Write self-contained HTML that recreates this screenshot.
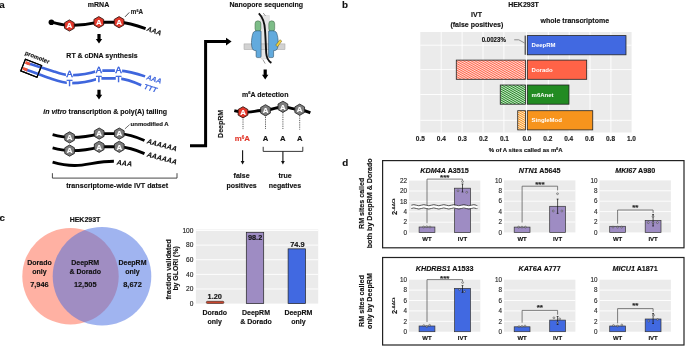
<!DOCTYPE html>
<html><head><meta charset="utf-8"><style>
html,body{margin:0;padding:0;background:#fff;width:685px;height:346px;overflow:hidden;}
svg{display:block;font-family:"Liberation Sans", sans-serif;-webkit-font-smoothing:antialiased;will-change:transform;}
</style></head><body>
<svg width="685" height="346" viewBox="0 0 685 346">
<rect width="685" height="346" fill="#fff"/>
<text x="-0.65" y="7.70" font-size="9.8" font-weight="bold" text-anchor="start" fill="#111"  stroke="#111" stroke-width="0.14">a</text>
<text x="98.50" y="6.80" font-size="7" font-weight="bold" text-anchor="middle" fill="#111"  stroke="#111" stroke-width="0.14">mRNA</text>
<path d="M51.4,22.2 C58,23.6 63,25.4 69.4,25.5 C80,25.6 90,24.2 98.8,22.2 L119,22.2 C128,22.4 137,25.4 145.6,28.6" fill="none" stroke="#000" stroke-width="2.9"/>
<circle cx="51.4" cy="22.2" r="2.8" fill="#000"/>
<polygon points="69.40,19.90 64.55,22.70 64.55,28.30 69.40,31.10 74.25,28.30 74.25,22.70" fill="#E2372A" stroke="#2a100c" stroke-width="0.85"/>
<text x="69.40" y="28.22" font-size="7.9" font-weight="bold" text-anchor="middle" fill="#fff" stroke="#fff" stroke-width="0.14">A</text>
<polygon points="98.80,16.60 93.95,19.40 93.95,25.00 98.80,27.80 103.65,25.00 103.65,19.40" fill="#E2372A" stroke="#2a100c" stroke-width="0.85"/>
<text x="98.80" y="24.92" font-size="7.9" font-weight="bold" text-anchor="middle" fill="#fff" stroke="#fff" stroke-width="0.14">A</text>
<polygon points="119.10,16.60 114.25,19.40 114.25,25.00 119.10,27.80 123.95,25.00 123.95,19.40" fill="#E2372A" stroke="#2a100c" stroke-width="0.85"/>
<text x="119.10" y="24.92" font-size="7.9" font-weight="bold" text-anchor="middle" fill="#fff" stroke="#fff" stroke-width="0.14">A</text>
<line x1="125.0" y1="16.9" x2="129.3" y2="12.4" stroke="#222" stroke-width="0.8"/>
<text x="130.8" y="13.9" font-size="6.3" font-weight="bold" fill="#222" stroke="#222" stroke-width="0.14">m<tspan font-size="3.8" dy="-2.3">6</tspan><tspan dy="2.3">A</tspan></text>
<text transform="translate(146.3,30.8) rotate(18)" font-size="6.9" font-weight="bold" font-style="italic" fill="#111" stroke="#111" stroke-width="0.14">AAA</text>
<path d="M97.40,33.90 H100.60 V39.00 H102.20 L99.00,43.60 L95.80,39.00 H97.40 Z" fill="#000"/>
<text x="102.00" y="57.60" font-size="7" font-weight="bold" text-anchor="middle" fill="#111"  stroke="#111" stroke-width="0.14">RT &amp; cDNA synthesis</text>
<g transform="translate(31.2,68.2) rotate(21.5)"><rect x="-8.7" y="-6.3" width="17.4" height="12.6" fill="#fff" stroke="#000" stroke-width="1.15"/></g>
<path d="M27,63.2 C36,65.5 45,68.5 55,71.8 C60,73.5 65,75 69.6,75.2 C82,75.4 90,73.6 98.8,70.6 L118.5,70.6 C128,71 137,73.5 145.1,76.4" fill="none" stroke="#3F66DD" stroke-width="2.6"/>
<path d="M24.5,69.3 C33,71.8 42,75.5 52,79 C58,81 64,83 69.6,83.1 C82,83.3 90,81.4 98.8,78.4 L118.5,78.4 C127,79 134,82 141.2,85.2" fill="none" stroke="#3F66DD" stroke-width="2.6"/>
<path d="M25.4,62.4 L30.0,64.2" stroke="#F0553A" stroke-width="2.8"/>
<path d="M22.8,68.3 L27.4,70.1" stroke="#F0553A" stroke-width="2.8"/>
<g transform="translate(31.2,68.2) rotate(21.5)"><rect x="-8.7" y="-6.3" width="17.4" height="12.6" fill="none" stroke="#000" stroke-width="1.15"/></g>
<text transform="translate(24.4,54.5) rotate(21)" font-size="5.9" font-weight="bold" fill="#111" stroke="#111" stroke-width="0.14">promoter</text>
<rect x="65.90" y="70.20" width="7.2" height="6.8" fill="#fff"/>
<rect x="66.80" y="79.50" width="5.4" height="6.8" fill="#fff"/>
<text x="69.50" y="76.80" font-size="9.2" font-weight="normal" text-anchor="middle" fill="#3F66DD" stroke="#3F66DD" stroke-width="0.55">A</text>
<text x="69.50" y="86.10" font-size="9.2" font-weight="normal" text-anchor="middle" fill="#3F66DD" stroke="#3F66DD" stroke-width="0.55">T</text>
<rect x="95.10" y="66.70" width="7.2" height="6.8" fill="#fff"/>
<rect x="96.00" y="75.10" width="5.4" height="6.8" fill="#fff"/>
<text x="98.70" y="73.30" font-size="9.2" font-weight="normal" text-anchor="middle" fill="#3F66DD" stroke="#3F66DD" stroke-width="0.55">A</text>
<text x="98.70" y="81.70" font-size="9.2" font-weight="normal" text-anchor="middle" fill="#3F66DD" stroke="#3F66DD" stroke-width="0.55">T</text>
<rect x="114.90" y="66.70" width="7.2" height="6.8" fill="#fff"/>
<rect x="115.80" y="75.10" width="5.4" height="6.8" fill="#fff"/>
<text x="118.50" y="73.30" font-size="9.2" font-weight="normal" text-anchor="middle" fill="#3F66DD" stroke="#3F66DD" stroke-width="0.55">A</text>
<text x="118.50" y="81.70" font-size="9.2" font-weight="normal" text-anchor="middle" fill="#3F66DD" stroke="#3F66DD" stroke-width="0.55">T</text>
<text transform="translate(145.9,79.3) rotate(17)" font-size="7.2" font-weight="bold" font-style="italic" fill="#3F66DD" stroke="#3F66DD" stroke-width="0.14">AAA</text>
<text transform="translate(143.6,88.6) rotate(17)" font-size="7.2" font-weight="bold" font-style="italic" fill="#3F66DD" stroke="#3F66DD" stroke-width="0.14">TTT</text>
<path d="M97.40,89.80 H100.60 V94.80 H102.20 L99.00,99.40 L95.80,94.80 H97.40 Z" fill="#000"/>
<text x="43.3" y="113.6" font-size="7" font-weight="bold" fill="#111" stroke="#111" stroke-width="0.14"><tspan font-style="italic">in vitro</tspan> transcription &amp; poly(A) tailing</text>
<line x1="124.9" y1="128.9" x2="129.6" y2="124.6" stroke="#333" stroke-width="0.7"/>
<text x="130.60" y="126.20" font-size="6.0" font-weight="bold" text-anchor="start" fill="#111"  stroke="#111" stroke-width="0.14">unmodified A</text>
<path d="M52.6,134.6 C58,136 63,137.3 69.6,137.4 C80,137.6 90,136.2 99.2,133.6 L119.3,133.6 C128,134 137,137.2 144.5,140.5" fill="none" stroke="#000" stroke-width="2.9"/>
<polygon points="69.60,131.80 64.75,134.60 64.75,140.20 69.60,143.00 74.45,140.20 74.45,134.60" fill="#7d7d7d" stroke="#222" stroke-width="0.85"/>
<text x="69.60" y="140.12" font-size="7.9" font-weight="bold" text-anchor="middle" fill="#fff" stroke="#fff" stroke-width="0.14">A</text>
<polygon points="99.20,128.00 94.35,130.80 94.35,136.40 99.20,139.20 104.05,136.40 104.05,130.80" fill="#7d7d7d" stroke="#222" stroke-width="0.85"/>
<text x="99.20" y="136.32" font-size="7.9" font-weight="bold" text-anchor="middle" fill="#fff" stroke="#fff" stroke-width="0.14">A</text>
<polygon points="119.30,128.00 114.45,130.80 114.45,136.40 119.30,139.20 124.15,136.40 124.15,130.80" fill="#7d7d7d" stroke="#222" stroke-width="0.85"/>
<text x="119.30" y="136.32" font-size="7.9" font-weight="bold" text-anchor="middle" fill="#fff" stroke="#fff" stroke-width="0.14">A</text>
<text transform="translate(146.4,143.3) rotate(15)" font-size="7.1" font-weight="bold" font-style="italic" fill="#111" stroke="#111" stroke-width="0.14">AAAAAA</text>
<path d="M52.6,147.79999999999998 C58,149.2 63,150.5 69.6,150.6 C80,150.79999999999998 90,149.39999999999998 99.2,146.79999999999998 L119.3,146.79999999999998 C128,147.2 137,150.39999999999998 144.5,153.7" fill="none" stroke="#000" stroke-width="2.9"/>
<polygon points="69.60,145.00 64.75,147.80 64.75,153.40 69.60,156.20 74.45,153.40 74.45,147.80" fill="#7d7d7d" stroke="#222" stroke-width="0.85"/>
<text x="69.60" y="153.32" font-size="7.9" font-weight="bold" text-anchor="middle" fill="#fff" stroke="#fff" stroke-width="0.14">A</text>
<polygon points="99.20,141.20 94.35,144.00 94.35,149.60 99.20,152.40 104.05,149.60 104.05,144.00" fill="#7d7d7d" stroke="#222" stroke-width="0.85"/>
<text x="99.20" y="149.52" font-size="7.9" font-weight="bold" text-anchor="middle" fill="#fff" stroke="#fff" stroke-width="0.14">A</text>
<polygon points="119.30,141.20 114.45,144.00 114.45,149.60 119.30,152.40 124.15,149.60 124.15,144.00" fill="#7d7d7d" stroke="#222" stroke-width="0.85"/>
<text x="119.30" y="149.52" font-size="7.9" font-weight="bold" text-anchor="middle" fill="#fff" stroke="#fff" stroke-width="0.14">A</text>
<text transform="translate(146.4,156.5) rotate(15)" font-size="7.1" font-weight="bold" font-style="italic" fill="#111" stroke="#111" stroke-width="0.14">AAAAAA</text>
<path d="M52.6,162.2 C60,164.3 67,165.6 75,165.5 C87,165.3 98,161.2 113.9,161.2" fill="none" stroke="#000" stroke-width="2.9"/>
<text transform="translate(116.6,164.6) rotate(7)" font-size="7.0" font-weight="bold" font-style="italic" fill="#111" stroke="#111" stroke-width="0.14">AAA</text>
<path d="M52.4,173.2 V178.1 H177 V173.2" fill="none" stroke="#333" stroke-width="0.9"/>
<text x="117.20" y="187.90" font-size="7.15" font-weight="bold" text-anchor="middle" fill="#111"  stroke="#111" stroke-width="0.14">transcriptome-wide IVT datset</text>
<path d="M190,145.8 H205.6 V41.6 H227" fill="none" stroke="#000" stroke-width="3"/>
<path d="M226,37.8 L231.6,41.6 L226,45.4 Z" fill="#000"/>
<text x="266.30" y="6.60" font-size="7" font-weight="bold" text-anchor="middle" fill="#111"  stroke="#111" stroke-width="0.14">Nanopore sequencing</text>
<path d="M260.2,15.5 L269.4,15.5 L268.7,59 L260.9,59 Z" fill="#e6e6e6" stroke="#c4c4c4" stroke-width="0.35"/>
<rect x="244.0" y="43.9" width="41" height="5.6" fill="#d2d2d2" stroke="#9a9a9a" stroke-width="0.45"/>
<rect x="255.0" y="20.8" width="5.9" height="10.8" rx="2.95" fill="#7DBD88" stroke="#3d5e43" stroke-width="0.5"/>
<rect x="268.8" y="20.8" width="5.9" height="10.8" rx="2.95" fill="#7DBD88" stroke="#3d5e43" stroke-width="0.5"/>
<path d="M261.10,31.2 C259.00,30.5 255.00,30.5 253.60,32.0 C252.20,34 251.30,40 251.50,44 C251.70,48 252.60,50.2 254.60,50.5 L256.10,50.6 L256.10,56.2 Q256.10,57.6 257.60,57.6 L259.70,57.6 Q261.10,57.6 261.10,56.2 Z" fill="#62AADD" stroke="#24455e" stroke-width="0.55"/>
<path d="M268.60,31.2 C270.70,30.5 274.70,30.5 276.10,32.0 C277.50,34 278.40,40 278.20,44 C278.00,48 277.10,50.2 275.10,50.5 L273.60,50.6 L273.60,56.2 Q273.60,57.6 272.10,57.6 L270.00,57.6 Q268.60,57.6 268.60,56.2 Z" fill="#62AADD" stroke="#24455e" stroke-width="0.55"/>
<path d="M275.7,45.2 L279.9,39.7 L281.8,41.1 L277.6,46.7 Z" fill="#F2D23A" stroke="#5a5020" stroke-width="0.45"/>
<path d="M258.8,13.4 C262.5,17 264.6,23 265.0,30 C265.6,38 265.9,47 266.2,53 C266.5,57.5 268,60.8 271.4,62.9" fill="none" stroke="#111" stroke-width="1.9"/>
<path d="M263.2,13.0 L265.4,15.8 M262.9,59.6 L265.2,63.6" fill="none" stroke="#333" stroke-width="0.5"/>
<path d="M263.60,69.50 H266.80 V74.80 H268.40 L265.20,79.40 L262.00,74.80 H263.60 Z" fill="#000"/>
<text x="265.2" y="96.8" font-size="7" font-weight="bold" text-anchor="middle" fill="#111" stroke="#111" stroke-width="0.14">m<tspan font-size="4.2" dy="-2.4">6</tspan><tspan dy="2.4">A detection</tspan></text>
<path d="M234.3,110.7 C238,111.6 240,112.3 243,112.3 C250,112.4 258,110.4 265.5,110.3 C272,110.2 277,106.8 282.9,106.8 C289,106.8 294,109.7 299.7,109.7 C304,109.8 307,111.4 310.3,112.9" fill="none" stroke="#000" stroke-width="2.9"/>
<line x1="265.5" y1="115.3" x2="265.5" y2="129.7" stroke="#222" stroke-width="0.8" stroke-dasharray="0.9,0.9"/>
<line x1="282.9" y1="111.8" x2="282.9" y2="129.7" stroke="#222" stroke-width="0.8" stroke-dasharray="0.9,0.9"/>
<line x1="299.7" y1="114.7" x2="299.7" y2="129.7" stroke="#222" stroke-width="0.8" stroke-dasharray="0.9,0.9"/>
<line x1="243" y1="117" x2="243" y2="129.7" stroke="#222" stroke-width="0.8" stroke-dasharray="0.9,0.9"/>
<polygon points="243.00,106.70 238.15,109.50 238.15,115.10 243.00,117.90 247.85,115.10 247.85,109.50" fill="#E2372A" stroke="#2a100c" stroke-width="0.85"/>
<text x="243.00" y="115.02" font-size="7.9" font-weight="bold" text-anchor="middle" fill="#fff" stroke="#fff" stroke-width="0.14">A</text>
<polygon points="265.50,104.70 260.65,107.50 260.65,113.10 265.50,115.90 270.35,113.10 270.35,107.50" fill="#7d7d7d" stroke="#222" stroke-width="0.85"/>
<text x="265.50" y="113.02" font-size="7.9" font-weight="bold" text-anchor="middle" fill="#fff" stroke="#fff" stroke-width="0.14">A</text>
<polygon points="282.90,101.20 278.05,104.00 278.05,109.60 282.90,112.40 287.75,109.60 287.75,104.00" fill="#7d7d7d" stroke="#222" stroke-width="0.85"/>
<text x="282.90" y="109.52" font-size="7.9" font-weight="bold" text-anchor="middle" fill="#fff" stroke="#fff" stroke-width="0.14">A</text>
<polygon points="299.70,104.10 294.85,106.90 294.85,112.50 299.70,115.30 304.55,112.50 304.55,106.90" fill="#7d7d7d" stroke="#222" stroke-width="0.85"/>
<text x="299.70" y="112.42" font-size="7.9" font-weight="bold" text-anchor="middle" fill="#fff" stroke="#fff" stroke-width="0.14">A</text>
<text transform="translate(222.8,123.9) rotate(-90)" font-size="7" font-weight="bold" text-anchor="middle" fill="#111" stroke="#111" stroke-width="0.14">DeepRM</text>
<text x="242.4" y="141.4" font-size="7.9" font-weight="bold" text-anchor="middle" fill="#E2372A" stroke="#E2372A" stroke-width="0.14">m<tspan font-size="4.6" dy="-2.9">6</tspan><tspan dy="2.9">A</tspan></text>
<text x="265.50" y="141.40" font-size="7.7" font-weight="bold" text-anchor="middle" fill="#111"  stroke="#111" stroke-width="0.14">A</text>
<text x="282.90" y="141.40" font-size="7.7" font-weight="bold" text-anchor="middle" fill="#111"  stroke="#111" stroke-width="0.14">A</text>
<text x="299.70" y="141.40" font-size="7.7" font-weight="bold" text-anchor="middle" fill="#111"  stroke="#111" stroke-width="0.14">A</text>
<path d="M263.2,146.8 V151.4 H302.8 V146.8" fill="none" stroke="#222" stroke-width="0.9"/>
<line x1="242.6" y1="150.2" x2="242.6" y2="161.5" stroke="#111" stroke-width="1.1"/>
<path d="M240.70,161.00 L244.50,161.00 L242.60,164.40 Z" fill="#111"/>
<line x1="282.9" y1="151.4" x2="282.9" y2="161.5" stroke="#111" stroke-width="1.1"/>
<path d="M281.00,161.00 L284.80,161.00 L282.90,164.40 Z" fill="#111"/>
<text x="241.60" y="178.30" font-size="7" font-weight="bold" text-anchor="middle" fill="#111"  stroke="#111" stroke-width="0.14">false</text>
<text x="241.60" y="188.00" font-size="7" font-weight="bold" text-anchor="middle" fill="#111"  stroke="#111" stroke-width="0.14">positives</text>
<text x="285.00" y="178.30" font-size="7" font-weight="bold" text-anchor="middle" fill="#111"  stroke="#111" stroke-width="0.14">true</text>
<text x="285.00" y="188.00" font-size="7" font-weight="bold" text-anchor="middle" fill="#111"  stroke="#111" stroke-width="0.14">negatives</text>
<text x="342.05" y="7.60" font-size="9.8" font-weight="bold" text-anchor="start" fill="#111"  stroke="#111" stroke-width="0.14">b</text>
<text x="523.50" y="7.10" font-size="7" font-weight="bold" text-anchor="middle" fill="#111"  stroke="#111" stroke-width="0.14">HEK293T</text>
<text x="476.50" y="17.10" font-size="7" font-weight="bold" text-anchor="middle" fill="#111"  stroke="#111" stroke-width="0.14">IVT</text>
<text x="476.90" y="27.00" font-size="7" font-weight="bold" text-anchor="middle" fill="#111"  stroke="#111" stroke-width="0.14">(false positives)</text>
<text x="574.80" y="23.00" font-size="7" font-weight="bold" text-anchor="middle" fill="#111"  stroke="#111" stroke-width="0.14">whole transcriptome</text>
<rect x="420.3" y="32" width="105.6" height="100.5" fill="#EBEBEB"/>
<rect x="526.9" y="32" width="104.7" height="100.5" fill="#EBEBEB"/>
<line x1="441.2" y1="32" x2="441.2" y2="132.5" stroke="#fff" stroke-width="0.9"/>
<line x1="462.1" y1="32" x2="462.1" y2="132.5" stroke="#fff" stroke-width="0.9"/>
<line x1="483.0" y1="32" x2="483.0" y2="132.5" stroke="#fff" stroke-width="0.9"/>
<line x1="503.9" y1="32" x2="503.9" y2="132.5" stroke="#fff" stroke-width="0.9"/>
<line x1="548.3" y1="32" x2="548.3" y2="132.5" stroke="#fff" stroke-width="0.9"/>
<line x1="569.2" y1="32" x2="569.2" y2="132.5" stroke="#fff" stroke-width="0.9"/>
<line x1="590.0" y1="32" x2="590.0" y2="132.5" stroke="#fff" stroke-width="0.9"/>
<line x1="610.9" y1="32" x2="610.9" y2="132.5" stroke="#fff" stroke-width="0.9"/>
<line x1="420.3" y1="45.2" x2="525.9" y2="45.2" stroke="#fff" stroke-width="0.9"/>
<line x1="526.9" y1="45.2" x2="631.6" y2="45.2" stroke="#fff" stroke-width="0.9"/>
<line x1="420.3" y1="69.6" x2="525.9" y2="69.6" stroke="#fff" stroke-width="0.9"/>
<line x1="526.9" y1="69.6" x2="631.6" y2="69.6" stroke="#fff" stroke-width="0.9"/>
<line x1="420.3" y1="94.5" x2="525.9" y2="94.5" stroke="#fff" stroke-width="0.9"/>
<line x1="526.9" y1="94.5" x2="631.6" y2="94.5" stroke="#fff" stroke-width="0.9"/>
<line x1="420.3" y1="120.3" x2="525.9" y2="120.3" stroke="#fff" stroke-width="0.9"/>
<line x1="526.9" y1="120.3" x2="631.6" y2="120.3" stroke="#fff" stroke-width="0.9"/>
<defs>
<pattern id="hr" patternUnits="userSpaceOnUse" width="1.9" height="1.9" patternTransform="rotate(-60)"><rect width="1.9" height="1.9" fill="#fff"/><rect width="1.15" height="1.9" fill="#FF6347"/></pattern>
<pattern id="hg" patternUnits="userSpaceOnUse" width="1.9" height="1.9" patternTransform="rotate(-60)"><rect width="1.9" height="1.9" fill="#fff"/><rect width="1.15" height="1.9" fill="#228B22"/></pattern>
<pattern id="ho" patternUnits="userSpaceOnUse" width="1.9" height="1.9" patternTransform="rotate(-60)"><rect width="1.9" height="1.9" fill="#fff"/><rect width="1.15" height="1.9" fill="#F7941D"/></pattern>
</defs>
<rect x="527.3" y="35.60" width="98.68" height="19.2" fill="#4169E1" stroke="#222" stroke-width="0.8"/>
<text x="531.60" y="47.30" font-size="6.0" font-weight="bold" text-anchor="start" fill="#fff" >DeepRM</text>
<rect x="456.28" y="60.10" width="69.22" height="19.2" fill="url(#hr)" stroke="#222" stroke-width="0.8"/>
<rect x="527.3" y="60.10" width="59.39" height="19.2" fill="#FF6347" stroke="#222" stroke-width="0.8"/>
<text x="531.60" y="71.80" font-size="6.0" font-weight="bold" text-anchor="start" fill="#fff" >Dorado</text>
<rect x="500.25" y="85.00" width="25.25" height="19.2" fill="url(#hg)" stroke="#222" stroke-width="0.8"/>
<rect x="527.3" y="85.00" width="41.68" height="19.2" fill="#228B22" stroke="#222" stroke-width="0.8"/>
<text x="531.60" y="96.70" font-size="6.0" font-weight="bold" text-anchor="start" fill="#fff" >m6Anet</text>
<rect x="517.72" y="110.70" width="7.78" height="19.2" fill="url(#ho)" stroke="#222" stroke-width="0.8"/>
<rect x="527.3" y="110.70" width="65.44" height="19.2" fill="#F7941D" stroke="#222" stroke-width="0.8"/>
<text x="531.60" y="122.40" font-size="6.0" font-weight="bold" text-anchor="start" fill="#fff" >SingleMod</text>
<line x1="525.2" y1="35.6" x2="525.2" y2="54.8" stroke="#222" stroke-width="1"/>
<path d="M514.2,39.8 L518.8,39.8 L524.6,43.0" fill="none" stroke="#777" stroke-width="0.8"/>
<text x="481.7" y="41.6" font-size="6.5" font-weight="bold" fill="#111" textLength="24.2" lengthAdjust="spacingAndGlyphs" stroke="#111" stroke-width="0.14">0.0023%</text>
<text x="420.30" y="141.20" font-size="6.5" font-weight="bold" text-anchor="middle" fill="#222"  stroke="#222" stroke-width="0.14">0.5</text>
<text x="441.34" y="141.20" font-size="6.5" font-weight="bold" text-anchor="middle" fill="#222"  stroke="#222" stroke-width="0.14">0.4</text>
<text x="462.38" y="141.20" font-size="6.5" font-weight="bold" text-anchor="middle" fill="#222"  stroke="#222" stroke-width="0.14">0.3</text>
<text x="483.42" y="141.20" font-size="6.5" font-weight="bold" text-anchor="middle" fill="#222"  stroke="#222" stroke-width="0.14">0.2</text>
<text x="504.46" y="141.20" font-size="6.5" font-weight="bold" text-anchor="middle" fill="#222"  stroke="#222" stroke-width="0.14">0.1</text>
<text x="526.90" y="141.20" font-size="6.5" font-weight="bold" text-anchor="middle" fill="#222"  stroke="#222" stroke-width="0.14">0.0</text>
<text x="547.80" y="141.20" font-size="6.5" font-weight="bold" text-anchor="middle" fill="#222"  stroke="#222" stroke-width="0.14">0.2</text>
<text x="568.70" y="141.20" font-size="6.5" font-weight="bold" text-anchor="middle" fill="#222"  stroke="#222" stroke-width="0.14">0.4</text>
<text x="589.60" y="141.20" font-size="6.5" font-weight="bold" text-anchor="middle" fill="#222"  stroke="#222" stroke-width="0.14">0.6</text>
<text x="610.50" y="141.20" font-size="6.5" font-weight="bold" text-anchor="middle" fill="#222"  stroke="#222" stroke-width="0.14">0.8</text>
<text x="631.40" y="141.20" font-size="6.5" font-weight="bold" text-anchor="middle" fill="#222"  stroke="#222" stroke-width="0.14">1.0</text>
<text x="525.7" y="151.7" font-size="6" font-weight="bold" text-anchor="middle" fill="#111" stroke="#111" stroke-width="0.14">% of A sites called as m<tspan font-size="3.6" dy="-2">6</tspan><tspan dy="2">A</tspan></text>
<text x="-0.60" y="220.50" font-size="9.8" font-weight="bold" text-anchor="start" fill="#111"  stroke="#111" stroke-width="0.14">c</text>
<text x="85.00" y="222.30" font-size="7" font-weight="bold" text-anchor="middle" fill="#111"  stroke="#111" stroke-width="0.14">HEK293T</text>
<circle cx="70.5" cy="276.3" r="48.2" fill="#FF6347" fill-opacity="0.5"/>
<circle cx="102.0" cy="276.3" r="49.3" fill="#4169E1" fill-opacity="0.5"/>
<text x="39.50" y="265.20" font-size="7" font-weight="bold" text-anchor="middle" fill="#111"  stroke="#111" stroke-width="0.14">Dorado</text>
<text x="39.50" y="274.10" font-size="7" font-weight="bold" text-anchor="middle" fill="#111"  stroke="#111" stroke-width="0.14">only</text>
<text x="39.40" y="286.90" font-size="7.4" font-weight="bold" text-anchor="middle" fill="#111"  stroke="#111" stroke-width="0.14">7,946</text>
<text x="85.20" y="265.20" font-size="7" font-weight="bold" text-anchor="middle" fill="#111"  stroke="#111" stroke-width="0.14">DeepRM</text>
<text x="85.20" y="274.10" font-size="7" font-weight="bold" text-anchor="middle" fill="#111"  stroke="#111" stroke-width="0.14">&amp; Dorado</text>
<text x="85.20" y="286.90" font-size="7.4" font-weight="bold" text-anchor="middle" fill="#111"  stroke="#111" stroke-width="0.14">12,505</text>
<text x="132.50" y="265.20" font-size="7" font-weight="bold" text-anchor="middle" fill="#111"  stroke="#111" stroke-width="0.14">DeepRM</text>
<text x="132.50" y="274.10" font-size="7" font-weight="bold" text-anchor="middle" fill="#111"  stroke="#111" stroke-width="0.14">only</text>
<text x="132.50" y="286.90" font-size="7.4" font-weight="bold" text-anchor="middle" fill="#111"  stroke="#111" stroke-width="0.14">8,672</text>
<rect x="195.9" y="229.5" width="122.3" height="74.1" fill="#EBEBEB"/>
<line x1="195.9" y1="288.98" x2="318.2" y2="288.98" stroke="#fff" stroke-width="0.9"/>
<line x1="195.9" y1="274.36" x2="318.2" y2="274.36" stroke="#fff" stroke-width="0.9"/>
<line x1="195.9" y1="259.74" x2="318.2" y2="259.74" stroke="#fff" stroke-width="0.9"/>
<line x1="195.9" y1="245.12" x2="318.2" y2="245.12" stroke="#fff" stroke-width="0.9"/>
<line x1="195.9" y1="230.50" x2="318.2" y2="230.50" stroke="#fff" stroke-width="0.9"/>
<text x="193.40" y="305.90" font-size="6.6" font-weight="normal" text-anchor="end" fill="#222"  stroke="#222" stroke-width="0.14">0</text>
<text x="193.40" y="291.28" font-size="6.6" font-weight="normal" text-anchor="end" fill="#222"  stroke="#222" stroke-width="0.14">20</text>
<text x="193.40" y="276.66" font-size="6.6" font-weight="normal" text-anchor="end" fill="#222"  stroke="#222" stroke-width="0.14">40</text>
<text x="193.40" y="262.04" font-size="6.6" font-weight="normal" text-anchor="end" fill="#222"  stroke="#222" stroke-width="0.14">60</text>
<text x="193.40" y="247.42" font-size="6.6" font-weight="normal" text-anchor="end" fill="#222"  stroke="#222" stroke-width="0.14">80</text>
<text x="193.40" y="232.80" font-size="6.6" font-weight="normal" text-anchor="end" fill="#222"  stroke="#222" stroke-width="0.14">100</text>
<rect x="206.3" y="301.3" width="17.6" height="2.2" rx="1.1" fill="#C8442C" stroke="#3a2622" stroke-width="0.6"/>
<rect x="246.3" y="232.3" width="17.4" height="71.3" fill="#9E8CC3" stroke="#222" stroke-width="0.7"/>
<rect x="288.1" y="248.85" width="17.4" height="54.75" fill="#4169E1" stroke="#222" stroke-width="0.7"/>
<text x="214.80" y="298.80" font-size="7.4" font-weight="bold" text-anchor="middle" fill="#111"  stroke="#111" stroke-width="0.14">1.20</text>
<text x="255.10" y="240.00" font-size="7.3" font-weight="bold" text-anchor="middle" fill="#111"  stroke="#111" stroke-width="0.14">98.2</text>
<text x="297.40" y="246.80" font-size="7.4" font-weight="bold" text-anchor="middle" fill="#111"  stroke="#111" stroke-width="0.14">74.9</text>
<text x="214.70" y="315.30" font-size="7" font-weight="bold" text-anchor="middle" fill="#111"  stroke="#111" stroke-width="0.14">Dorado</text>
<text x="214.70" y="324.20" font-size="7" font-weight="bold" text-anchor="middle" fill="#111"  stroke="#111" stroke-width="0.14">only</text>
<text x="256.00" y="315.30" font-size="7" font-weight="bold" text-anchor="middle" fill="#111"  stroke="#111" stroke-width="0.14">DeepRM</text>
<text x="256.00" y="324.20" font-size="7" font-weight="bold" text-anchor="middle" fill="#111"  stroke="#111" stroke-width="0.14">&amp; Dorado</text>
<text x="298.40" y="315.30" font-size="7" font-weight="bold" text-anchor="middle" fill="#111"  stroke="#111" stroke-width="0.14">DeepRM</text>
<text x="298.40" y="324.20" font-size="7" font-weight="bold" text-anchor="middle" fill="#111"  stroke="#111" stroke-width="0.14">only</text>
<text transform="translate(171.1,269.3) rotate(-90)" font-size="7.2" font-weight="bold" text-anchor="middle" fill="#111" textLength="60.2" lengthAdjust="spacingAndGlyphs" stroke="#111" stroke-width="0.14">fraction validated</text>
<text transform="translate(178.0,268.4) rotate(-90)" font-size="7.0" font-weight="bold" text-anchor="middle" fill="#111" textLength="44.4" lengthAdjust="spacingAndGlyphs" stroke="#111" stroke-width="0.14">by GLORI (%)</text>
<text x="342.20" y="165.50" font-size="9.8" font-weight="bold" text-anchor="start" fill="#111"  stroke="#111" stroke-width="0.14">d</text>
<rect x="382.6" y="160.6" width="301.4" height="87.2" fill="none" stroke="#222" stroke-width="1.2"/>
<rect x="382.6" y="257.5" width="301.4" height="87.5" fill="none" stroke="#222" stroke-width="1.2"/>
<text transform="translate(363.6,203.3) rotate(-90)" font-size="7.1" font-weight="bold" text-anchor="middle" fill="#111" stroke="#111" stroke-width="0.14">RM sites called</text>
<text transform="translate(372.4,203.3) rotate(-90)" font-size="7.1" font-weight="bold" text-anchor="middle" fill="#111" stroke="#111" stroke-width="0.14">both by DeepRM &amp; Dorado</text>
<text transform="translate(363.6,301.0) rotate(-90)" font-size="7.2" font-weight="bold" text-anchor="middle" fill="#111" stroke="#111" stroke-width="0.14">RM sites called</text>
<text transform="translate(372.4,301.0) rotate(-90)" font-size="7.2" font-weight="bold" text-anchor="middle" fill="#111" stroke="#111" stroke-width="0.14">only by DeepRM</text>
<rect x="408.9" y="180.6" width="71.4" height="52" fill="#EBEBEB"/>
<line x1="408.9" y1="222.20" x2="480.29999999999995" y2="222.20" stroke="#fff" stroke-width="0.9"/>
<line x1="408.9" y1="211.80" x2="480.29999999999995" y2="211.80" stroke="#fff" stroke-width="0.9"/>
<line x1="408.9" y1="201.40" x2="480.29999999999995" y2="201.40" stroke="#fff" stroke-width="0.9"/>
<line x1="408.9" y1="191.00" x2="480.29999999999995" y2="191.00" stroke="#fff" stroke-width="0.9"/>
<text x="444.60" y="172.70" font-size="7.2" font-weight="bold" text-anchor="middle" fill="#111" stroke="#111" stroke-width="0.14"><tspan font-style="italic">KDM4A</tspan> A3515</text>
<text x="407.00" y="234.80" font-size="6.3" text-anchor="end" fill="#2a2a2a" stroke="#2a2a2a" stroke-width="0.14">0</text>
<text x="407.00" y="224.40" font-size="6.3" text-anchor="end" fill="#2a2a2a" stroke="#2a2a2a" stroke-width="0.14">2</text>
<text x="407.00" y="214.00" font-size="6.3" text-anchor="end" fill="#2a2a2a" stroke="#2a2a2a" stroke-width="0.14">4</text>
<text x="407.00" y="203.60" font-size="6.3" text-anchor="end" fill="#2a2a2a" stroke="#2a2a2a" stroke-width="0.14">18</text>
<text x="407.00" y="193.20" font-size="6.3" text-anchor="end" fill="#2a2a2a" stroke="#2a2a2a" stroke-width="0.14">20</text>
<text x="407.00" y="182.80" font-size="6.3" text-anchor="end" fill="#2a2a2a" stroke="#2a2a2a" stroke-width="0.14">22</text>
<rect x="419.10" y="227.00" width="15.8" height="5.60" fill="#9E8CC3" stroke="#333" stroke-width="0.7"/>
<rect x="454.60" y="188.20" width="15.8" height="44.40" fill="#9E8CC3" stroke="#333" stroke-width="0.7"/>
<path d="M427.00,223.20 V179.10 H462.50 V180.40" fill="none" stroke="#555" stroke-width="0.75"/>
<text x="444.75" y="180.00" font-size="8" font-weight="bold" text-anchor="middle" fill="#222" stroke="#222" stroke-width="0.14">***</text>
<path d="M462.50,184.00 V192.00 M461.60,184.00 H463.40 M461.60,192.00 H463.40" stroke="#111" stroke-width="0.7"/>
<circle cx="423.60" cy="227.00" r="0.95" fill="#ccc" fill-opacity="0.6" stroke="#333" stroke-width="0.45"/>
<circle cx="426.80" cy="226.70" r="0.95" fill="#ccc" fill-opacity="0.6" stroke="#333" stroke-width="0.45"/>
<circle cx="430.00" cy="227.00" r="0.95" fill="#ccc" fill-opacity="0.6" stroke="#333" stroke-width="0.45"/>
<circle cx="458.00" cy="190.80" r="0.95" fill="#ccc" fill-opacity="0.6" stroke="#333" stroke-width="0.45"/>
<circle cx="466.70" cy="192.30" r="0.95" fill="#ccc" fill-opacity="0.6" stroke="#333" stroke-width="0.45"/>
<circle cx="462.50" cy="181.50" r="0.95" fill="#ccc" fill-opacity="0.6" stroke="#333" stroke-width="0.45"/>
<text x="427.00" y="241.10" font-size="6.0" font-weight="bold" text-anchor="middle" fill="#111"  stroke="#111" stroke-width="0.14">WT</text>
<text x="462.50" y="241.10" font-size="6.0" font-weight="bold" text-anchor="middle" fill="#111"  stroke="#111" stroke-width="0.14">IVT</text>
<text transform="translate(397.00,215.00) rotate(-90)" font-size="7.4" font-weight="bold" fill="#111" stroke="#111" stroke-width="0.14">2<tspan font-size="4.4" dy="-2.3">-ΔΔCt</tspan></text>
<rect x="504.0" y="180.4" width="71.4" height="52" fill="#EBEBEB"/>
<line x1="504.0" y1="222.00" x2="575.4" y2="222.00" stroke="#fff" stroke-width="0.9"/>
<line x1="504.0" y1="211.60" x2="575.4" y2="211.60" stroke="#fff" stroke-width="0.9"/>
<line x1="504.0" y1="201.20" x2="575.4" y2="201.20" stroke="#fff" stroke-width="0.9"/>
<line x1="504.0" y1="190.80" x2="575.4" y2="190.80" stroke="#fff" stroke-width="0.9"/>
<text x="539.70" y="172.50" font-size="7.2" font-weight="bold" text-anchor="middle" fill="#111" stroke="#111" stroke-width="0.14"><tspan font-style="italic">NTN1</tspan> A5645</text>
<text x="502.10" y="234.60" font-size="6.3" text-anchor="end" fill="#2a2a2a" stroke="#2a2a2a" stroke-width="0.14">0</text>
<text x="502.10" y="224.20" font-size="6.3" text-anchor="end" fill="#2a2a2a" stroke="#2a2a2a" stroke-width="0.14">2</text>
<text x="502.10" y="213.80" font-size="6.3" text-anchor="end" fill="#2a2a2a" stroke="#2a2a2a" stroke-width="0.14">4</text>
<text x="502.10" y="203.40" font-size="6.3" text-anchor="end" fill="#2a2a2a" stroke="#2a2a2a" stroke-width="0.14">6</text>
<text x="502.10" y="193.00" font-size="6.3" text-anchor="end" fill="#2a2a2a" stroke="#2a2a2a" stroke-width="0.14">8</text>
<text x="502.10" y="182.60" font-size="6.3" text-anchor="end" fill="#2a2a2a" stroke="#2a2a2a" stroke-width="0.14">10</text>
<rect x="514.20" y="227.10" width="15.8" height="5.30" fill="#9E8CC3" stroke="#333" stroke-width="0.7"/>
<rect x="549.70" y="206.30" width="15.8" height="26.10" fill="#9E8CC3" stroke="#333" stroke-width="0.7"/>
<path d="M522.10,222.50 V186.20 H557.60 V190.40" fill="none" stroke="#555" stroke-width="0.75"/>
<text x="539.85" y="187.10" font-size="8" font-weight="bold" text-anchor="middle" fill="#222" stroke="#222" stroke-width="0.14">***</text>
<path d="M557.60,199.10 V213.40 M556.70,199.10 H558.50 M556.70,213.40 H558.50" stroke="#111" stroke-width="0.7"/>
<circle cx="518.60" cy="227.10" r="0.95" fill="#ccc" fill-opacity="0.6" stroke="#333" stroke-width="0.45"/>
<circle cx="522.00" cy="227.10" r="0.95" fill="#ccc" fill-opacity="0.6" stroke="#333" stroke-width="0.45"/>
<circle cx="525.40" cy="227.10" r="0.95" fill="#ccc" fill-opacity="0.6" stroke="#333" stroke-width="0.45"/>
<circle cx="553.20" cy="211.00" r="0.95" fill="#ccc" fill-opacity="0.6" stroke="#333" stroke-width="0.45"/>
<circle cx="561.90" cy="211.00" r="0.95" fill="#ccc" fill-opacity="0.6" stroke="#333" stroke-width="0.45"/>
<circle cx="557.50" cy="193.70" r="0.95" fill="#ccc" fill-opacity="0.6" stroke="#333" stroke-width="0.45"/>
<text x="522.10" y="240.90" font-size="6.0" font-weight="bold" text-anchor="middle" fill="#111"  stroke="#111" stroke-width="0.14">WT</text>
<text x="557.60" y="240.90" font-size="6.0" font-weight="bold" text-anchor="middle" fill="#111"  stroke="#111" stroke-width="0.14">IVT</text>
<rect x="599.5" y="180.4" width="71.4" height="52" fill="#EBEBEB"/>
<line x1="599.5" y1="222.00" x2="670.9" y2="222.00" stroke="#fff" stroke-width="0.9"/>
<line x1="599.5" y1="211.60" x2="670.9" y2="211.60" stroke="#fff" stroke-width="0.9"/>
<line x1="599.5" y1="201.20" x2="670.9" y2="201.20" stroke="#fff" stroke-width="0.9"/>
<line x1="599.5" y1="190.80" x2="670.9" y2="190.80" stroke="#fff" stroke-width="0.9"/>
<text x="635.20" y="172.50" font-size="7.2" font-weight="bold" text-anchor="middle" fill="#111" stroke="#111" stroke-width="0.14"><tspan font-style="italic">MKI67</tspan> A980</text>
<text x="597.60" y="234.60" font-size="6.3" text-anchor="end" fill="#2a2a2a" stroke="#2a2a2a" stroke-width="0.14">0</text>
<text x="597.60" y="224.20" font-size="6.3" text-anchor="end" fill="#2a2a2a" stroke="#2a2a2a" stroke-width="0.14">2</text>
<text x="597.60" y="213.80" font-size="6.3" text-anchor="end" fill="#2a2a2a" stroke="#2a2a2a" stroke-width="0.14">4</text>
<text x="597.60" y="203.40" font-size="6.3" text-anchor="end" fill="#2a2a2a" stroke="#2a2a2a" stroke-width="0.14">6</text>
<text x="597.60" y="193.00" font-size="6.3" text-anchor="end" fill="#2a2a2a" stroke="#2a2a2a" stroke-width="0.14">8</text>
<text x="597.60" y="182.60" font-size="6.3" text-anchor="end" fill="#2a2a2a" stroke="#2a2a2a" stroke-width="0.14">10</text>
<rect x="609.70" y="226.30" width="15.8" height="6.10" fill="#9E8CC3" stroke="#333" stroke-width="0.7"/>
<rect x="645.20" y="220.50" width="15.8" height="11.90" fill="#9E8CC3" stroke="#333" stroke-width="0.7"/>
<path d="M617.60,223.70 V210.00 H653.10 V213.00" fill="none" stroke="#555" stroke-width="0.75"/>
<text x="635.35" y="209.80" font-size="8" font-weight="bold" text-anchor="middle" fill="#222" stroke="#222" stroke-width="0.14">**</text>
<path d="M653.10,214.50 V226.00 M652.20,214.50 H654.00 M652.20,226.00 H654.00" stroke="#111" stroke-width="0.7"/>
<circle cx="613.00" cy="227.10" r="0.95" fill="#ccc" fill-opacity="0.6" stroke="#333" stroke-width="0.45"/>
<circle cx="617.60" cy="227.10" r="0.95" fill="#ccc" fill-opacity="0.6" stroke="#333" stroke-width="0.45"/>
<circle cx="621.60" cy="227.10" r="0.95" fill="#ccc" fill-opacity="0.6" stroke="#333" stroke-width="0.45"/>
<circle cx="648.30" cy="222.60" r="0.95" fill="#ccc" fill-opacity="0.6" stroke="#333" stroke-width="0.45"/>
<circle cx="657.40" cy="222.60" r="0.95" fill="#ccc" fill-opacity="0.6" stroke="#333" stroke-width="0.45"/>
<circle cx="653.00" cy="222.60" r="0.95" fill="#ccc" fill-opacity="0.6" stroke="#333" stroke-width="0.45"/>
<circle cx="653.00" cy="216.50" r="0.95" fill="#ccc" fill-opacity="0.6" stroke="#333" stroke-width="0.45"/>
<text x="617.60" y="240.90" font-size="6.0" font-weight="bold" text-anchor="middle" fill="#111"  stroke="#111" stroke-width="0.14">WT</text>
<text x="653.10" y="240.90" font-size="6.0" font-weight="bold" text-anchor="middle" fill="#111"  stroke="#111" stroke-width="0.14">IVT</text>
<rect x="408.9" y="279.7" width="71.4" height="52" fill="#EBEBEB"/>
<line x1="408.9" y1="321.30" x2="480.29999999999995" y2="321.30" stroke="#fff" stroke-width="0.9"/>
<line x1="408.9" y1="310.90" x2="480.29999999999995" y2="310.90" stroke="#fff" stroke-width="0.9"/>
<line x1="408.9" y1="300.50" x2="480.29999999999995" y2="300.50" stroke="#fff" stroke-width="0.9"/>
<line x1="408.9" y1="290.10" x2="480.29999999999995" y2="290.10" stroke="#fff" stroke-width="0.9"/>
<text x="444.60" y="270.60" font-size="7.2" font-weight="bold" text-anchor="middle" fill="#111" stroke="#111" stroke-width="0.14"><tspan font-style="italic">KHDRBS1</tspan> A1533</text>
<text x="407.00" y="333.90" font-size="6.3" text-anchor="end" fill="#2a2a2a" stroke="#2a2a2a" stroke-width="0.14">0</text>
<text x="407.00" y="323.50" font-size="6.3" text-anchor="end" fill="#2a2a2a" stroke="#2a2a2a" stroke-width="0.14">2</text>
<text x="407.00" y="313.10" font-size="6.3" text-anchor="end" fill="#2a2a2a" stroke="#2a2a2a" stroke-width="0.14">4</text>
<text x="407.00" y="302.70" font-size="6.3" text-anchor="end" fill="#2a2a2a" stroke="#2a2a2a" stroke-width="0.14">6</text>
<text x="407.00" y="292.30" font-size="6.3" text-anchor="end" fill="#2a2a2a" stroke="#2a2a2a" stroke-width="0.14">8</text>
<text x="407.00" y="281.90" font-size="6.3" text-anchor="end" fill="#2a2a2a" stroke="#2a2a2a" stroke-width="0.14">10</text>
<rect x="419.10" y="326.00" width="15.8" height="5.70" fill="#4169E1" stroke="#333" stroke-width="0.7"/>
<rect x="454.60" y="288.40" width="15.8" height="43.30" fill="#4169E1" stroke="#333" stroke-width="0.7"/>
<path d="M427.00,322.00 V279.60 H462.50 V281.00" fill="none" stroke="#555" stroke-width="0.75"/>
<text x="444.75" y="280.50" font-size="8" font-weight="bold" text-anchor="middle" fill="#222" stroke="#222" stroke-width="0.14">***</text>
<path d="M462.50,285.60 V292.40 M461.60,285.60 H463.40 M461.60,292.40 H463.40" stroke="#111" stroke-width="0.7"/>
<circle cx="423.80" cy="325.60" r="0.95" fill="#ccc" fill-opacity="0.6" stroke="#333" stroke-width="0.45"/>
<circle cx="426.80" cy="326.60" r="0.95" fill="#ccc" fill-opacity="0.6" stroke="#333" stroke-width="0.45"/>
<circle cx="429.60" cy="325.30" r="0.95" fill="#ccc" fill-opacity="0.6" stroke="#333" stroke-width="0.45"/>
<circle cx="462.60" cy="282.50" r="0.95" fill="#ccc" fill-opacity="0.6" stroke="#333" stroke-width="0.45"/>
<circle cx="459.50" cy="289.60" r="0.95" fill="#ccc" fill-opacity="0.6" stroke="#333" stroke-width="0.45"/>
<circle cx="464.50" cy="291.60" r="0.95" fill="#ccc" fill-opacity="0.6" stroke="#333" stroke-width="0.45"/>
<text x="427.00" y="340.20" font-size="6.0" font-weight="bold" text-anchor="middle" fill="#111"  stroke="#111" stroke-width="0.14">WT</text>
<text x="462.50" y="340.20" font-size="6.0" font-weight="bold" text-anchor="middle" fill="#111"  stroke="#111" stroke-width="0.14">IVT</text>
<text transform="translate(397.00,314.10) rotate(-90)" font-size="7.4" font-weight="bold" fill="#111" stroke="#111" stroke-width="0.14">2<tspan font-size="4.4" dy="-2.3">-ΔΔCt</tspan></text>
<rect x="504.0" y="279.7" width="71.4" height="52" fill="#EBEBEB"/>
<line x1="504.0" y1="321.30" x2="575.4" y2="321.30" stroke="#fff" stroke-width="0.9"/>
<line x1="504.0" y1="310.90" x2="575.4" y2="310.90" stroke="#fff" stroke-width="0.9"/>
<line x1="504.0" y1="300.50" x2="575.4" y2="300.50" stroke="#fff" stroke-width="0.9"/>
<line x1="504.0" y1="290.10" x2="575.4" y2="290.10" stroke="#fff" stroke-width="0.9"/>
<text x="539.70" y="270.60" font-size="7.2" font-weight="bold" text-anchor="middle" fill="#111" stroke="#111" stroke-width="0.14"><tspan font-style="italic">KAT6A</tspan> A777</text>
<text x="502.10" y="333.90" font-size="6.3" text-anchor="end" fill="#2a2a2a" stroke="#2a2a2a" stroke-width="0.14">0</text>
<text x="502.10" y="323.50" font-size="6.3" text-anchor="end" fill="#2a2a2a" stroke="#2a2a2a" stroke-width="0.14">2</text>
<text x="502.10" y="313.10" font-size="6.3" text-anchor="end" fill="#2a2a2a" stroke="#2a2a2a" stroke-width="0.14">4</text>
<text x="502.10" y="302.70" font-size="6.3" text-anchor="end" fill="#2a2a2a" stroke="#2a2a2a" stroke-width="0.14">6</text>
<text x="502.10" y="292.30" font-size="6.3" text-anchor="end" fill="#2a2a2a" stroke="#2a2a2a" stroke-width="0.14">8</text>
<text x="502.10" y="281.90" font-size="6.3" text-anchor="end" fill="#2a2a2a" stroke="#2a2a2a" stroke-width="0.14">10</text>
<rect x="514.20" y="326.80" width="15.8" height="4.90" fill="#4169E1" stroke="#333" stroke-width="0.7"/>
<rect x="549.70" y="320.10" width="15.8" height="11.60" fill="#4169E1" stroke="#333" stroke-width="0.7"/>
<path d="M522.10,322.70 V310.40 H557.60 V314.70" fill="none" stroke="#555" stroke-width="0.75"/>
<text x="539.85" y="310.20" font-size="8" font-weight="bold" text-anchor="middle" fill="#222" stroke="#222" stroke-width="0.14">**</text>
<path d="M557.60,316.50 V324.50 M556.70,316.50 H558.50 M556.70,324.50 H558.50" stroke="#111" stroke-width="0.7"/>
<circle cx="519.00" cy="326.60" r="0.95" fill="#ccc" fill-opacity="0.6" stroke="#333" stroke-width="0.45"/>
<circle cx="522.00" cy="326.40" r="0.95" fill="#ccc" fill-opacity="0.6" stroke="#333" stroke-width="0.45"/>
<circle cx="525.00" cy="326.00" r="0.95" fill="#ccc" fill-opacity="0.6" stroke="#333" stroke-width="0.45"/>
<circle cx="553.90" cy="317.80" r="0.95" fill="#ccc" fill-opacity="0.6" stroke="#333" stroke-width="0.45"/>
<circle cx="559.70" cy="318.90" r="0.95" fill="#ccc" fill-opacity="0.6" stroke="#333" stroke-width="0.45"/>
<circle cx="557.50" cy="322.70" r="0.95" fill="#ccc" fill-opacity="0.6" stroke="#333" stroke-width="0.45"/>
<text x="522.10" y="340.20" font-size="6.0" font-weight="bold" text-anchor="middle" fill="#111"  stroke="#111" stroke-width="0.14">WT</text>
<text x="557.60" y="340.20" font-size="6.0" font-weight="bold" text-anchor="middle" fill="#111"  stroke="#111" stroke-width="0.14">IVT</text>
<rect x="599.5" y="279.7" width="71.4" height="52" fill="#EBEBEB"/>
<line x1="599.5" y1="321.30" x2="670.9" y2="321.30" stroke="#fff" stroke-width="0.9"/>
<line x1="599.5" y1="310.90" x2="670.9" y2="310.90" stroke="#fff" stroke-width="0.9"/>
<line x1="599.5" y1="300.50" x2="670.9" y2="300.50" stroke="#fff" stroke-width="0.9"/>
<line x1="599.5" y1="290.10" x2="670.9" y2="290.10" stroke="#fff" stroke-width="0.9"/>
<text x="635.20" y="270.60" font-size="7.2" font-weight="bold" text-anchor="middle" fill="#111" stroke="#111" stroke-width="0.14"><tspan font-style="italic">MICU1</tspan> A1871</text>
<text x="597.60" y="333.90" font-size="6.3" text-anchor="end" fill="#2a2a2a" stroke="#2a2a2a" stroke-width="0.14">0</text>
<text x="597.60" y="323.50" font-size="6.3" text-anchor="end" fill="#2a2a2a" stroke="#2a2a2a" stroke-width="0.14">2</text>
<text x="597.60" y="313.10" font-size="6.3" text-anchor="end" fill="#2a2a2a" stroke="#2a2a2a" stroke-width="0.14">4</text>
<text x="597.60" y="302.70" font-size="6.3" text-anchor="end" fill="#2a2a2a" stroke="#2a2a2a" stroke-width="0.14">6</text>
<text x="597.60" y="292.30" font-size="6.3" text-anchor="end" fill="#2a2a2a" stroke="#2a2a2a" stroke-width="0.14">8</text>
<text x="597.60" y="281.90" font-size="6.3" text-anchor="end" fill="#2a2a2a" stroke="#2a2a2a" stroke-width="0.14">10</text>
<rect x="609.70" y="326.00" width="15.8" height="5.70" fill="#4169E1" stroke="#333" stroke-width="0.7"/>
<rect x="645.20" y="319.00" width="15.8" height="12.70" fill="#4169E1" stroke="#333" stroke-width="0.7"/>
<path d="M617.60,323.30 V308.60 H653.10 V311.80" fill="none" stroke="#555" stroke-width="0.75"/>
<text x="635.35" y="308.40" font-size="8" font-weight="bold" text-anchor="middle" fill="#222" stroke="#222" stroke-width="0.14">**</text>
<path d="M653.10,313.50 V323.50 M652.20,313.50 H654.00 M652.20,323.50 H654.00" stroke="#111" stroke-width="0.7"/>
<circle cx="613.50" cy="325.50" r="0.95" fill="#ccc" fill-opacity="0.6" stroke="#333" stroke-width="0.45"/>
<circle cx="617.50" cy="326.00" r="0.95" fill="#ccc" fill-opacity="0.6" stroke="#333" stroke-width="0.45"/>
<circle cx="621.80" cy="325.00" r="0.95" fill="#ccc" fill-opacity="0.6" stroke="#333" stroke-width="0.45"/>
<circle cx="648.70" cy="321.00" r="0.95" fill="#ccc" fill-opacity="0.6" stroke="#333" stroke-width="0.45"/>
<circle cx="657.60" cy="319.50" r="0.95" fill="#ccc" fill-opacity="0.6" stroke="#333" stroke-width="0.45"/>
<circle cx="653.60" cy="315.20" r="0.95" fill="#ccc" fill-opacity="0.6" stroke="#333" stroke-width="0.45"/>
<text x="617.60" y="340.20" font-size="6.0" font-weight="bold" text-anchor="middle" fill="#111"  stroke="#111" stroke-width="0.14">WT</text>
<text x="653.10" y="340.20" font-size="6.0" font-weight="bold" text-anchor="middle" fill="#111"  stroke="#111" stroke-width="0.14">IVT</text>
<rect x="411.3" y="205.3" width="66" height="3.1" fill="#fff"/>
<path d="M411.3,205.2 Q413.80,204.10 416.30,205.2 Q418.80,206.30 421.30,205.2 Q423.80,204.10 426.30,205.2 Q428.80,206.30 431.30,205.2 Q433.80,204.10 436.30,205.2 Q438.80,206.30 441.30,205.2 Q443.80,204.10 446.30,205.2 Q448.80,206.30 451.30,205.2 Q453.80,204.10 456.30,205.2 Q458.80,206.30 461.30,205.2 Q463.80,204.10 466.30,205.2 Q468.80,206.30 471.30,205.2 Q473.80,204.10 476.30,205.2 Q476.80,206.30 477.30,205.2" fill="none" stroke="#222" stroke-width="0.75"/>
<path d="M411.3,208.5 Q413.80,207.40 416.30,208.5 Q418.80,209.60 421.30,208.5 Q423.80,207.40 426.30,208.5 Q428.80,209.60 431.30,208.5 Q433.80,207.40 436.30,208.5 Q438.80,209.60 441.30,208.5 Q443.80,207.40 446.30,208.5 Q448.80,209.60 451.30,208.5 Q453.80,207.40 456.30,208.5 Q458.80,209.60 461.30,208.5 Q463.80,207.40 466.30,208.5 Q468.80,209.60 471.30,208.5 Q473.80,207.40 476.30,208.5 Q476.80,209.60 477.30,208.5" fill="none" stroke="#222" stroke-width="0.75"/>
</svg>
</body></html>
